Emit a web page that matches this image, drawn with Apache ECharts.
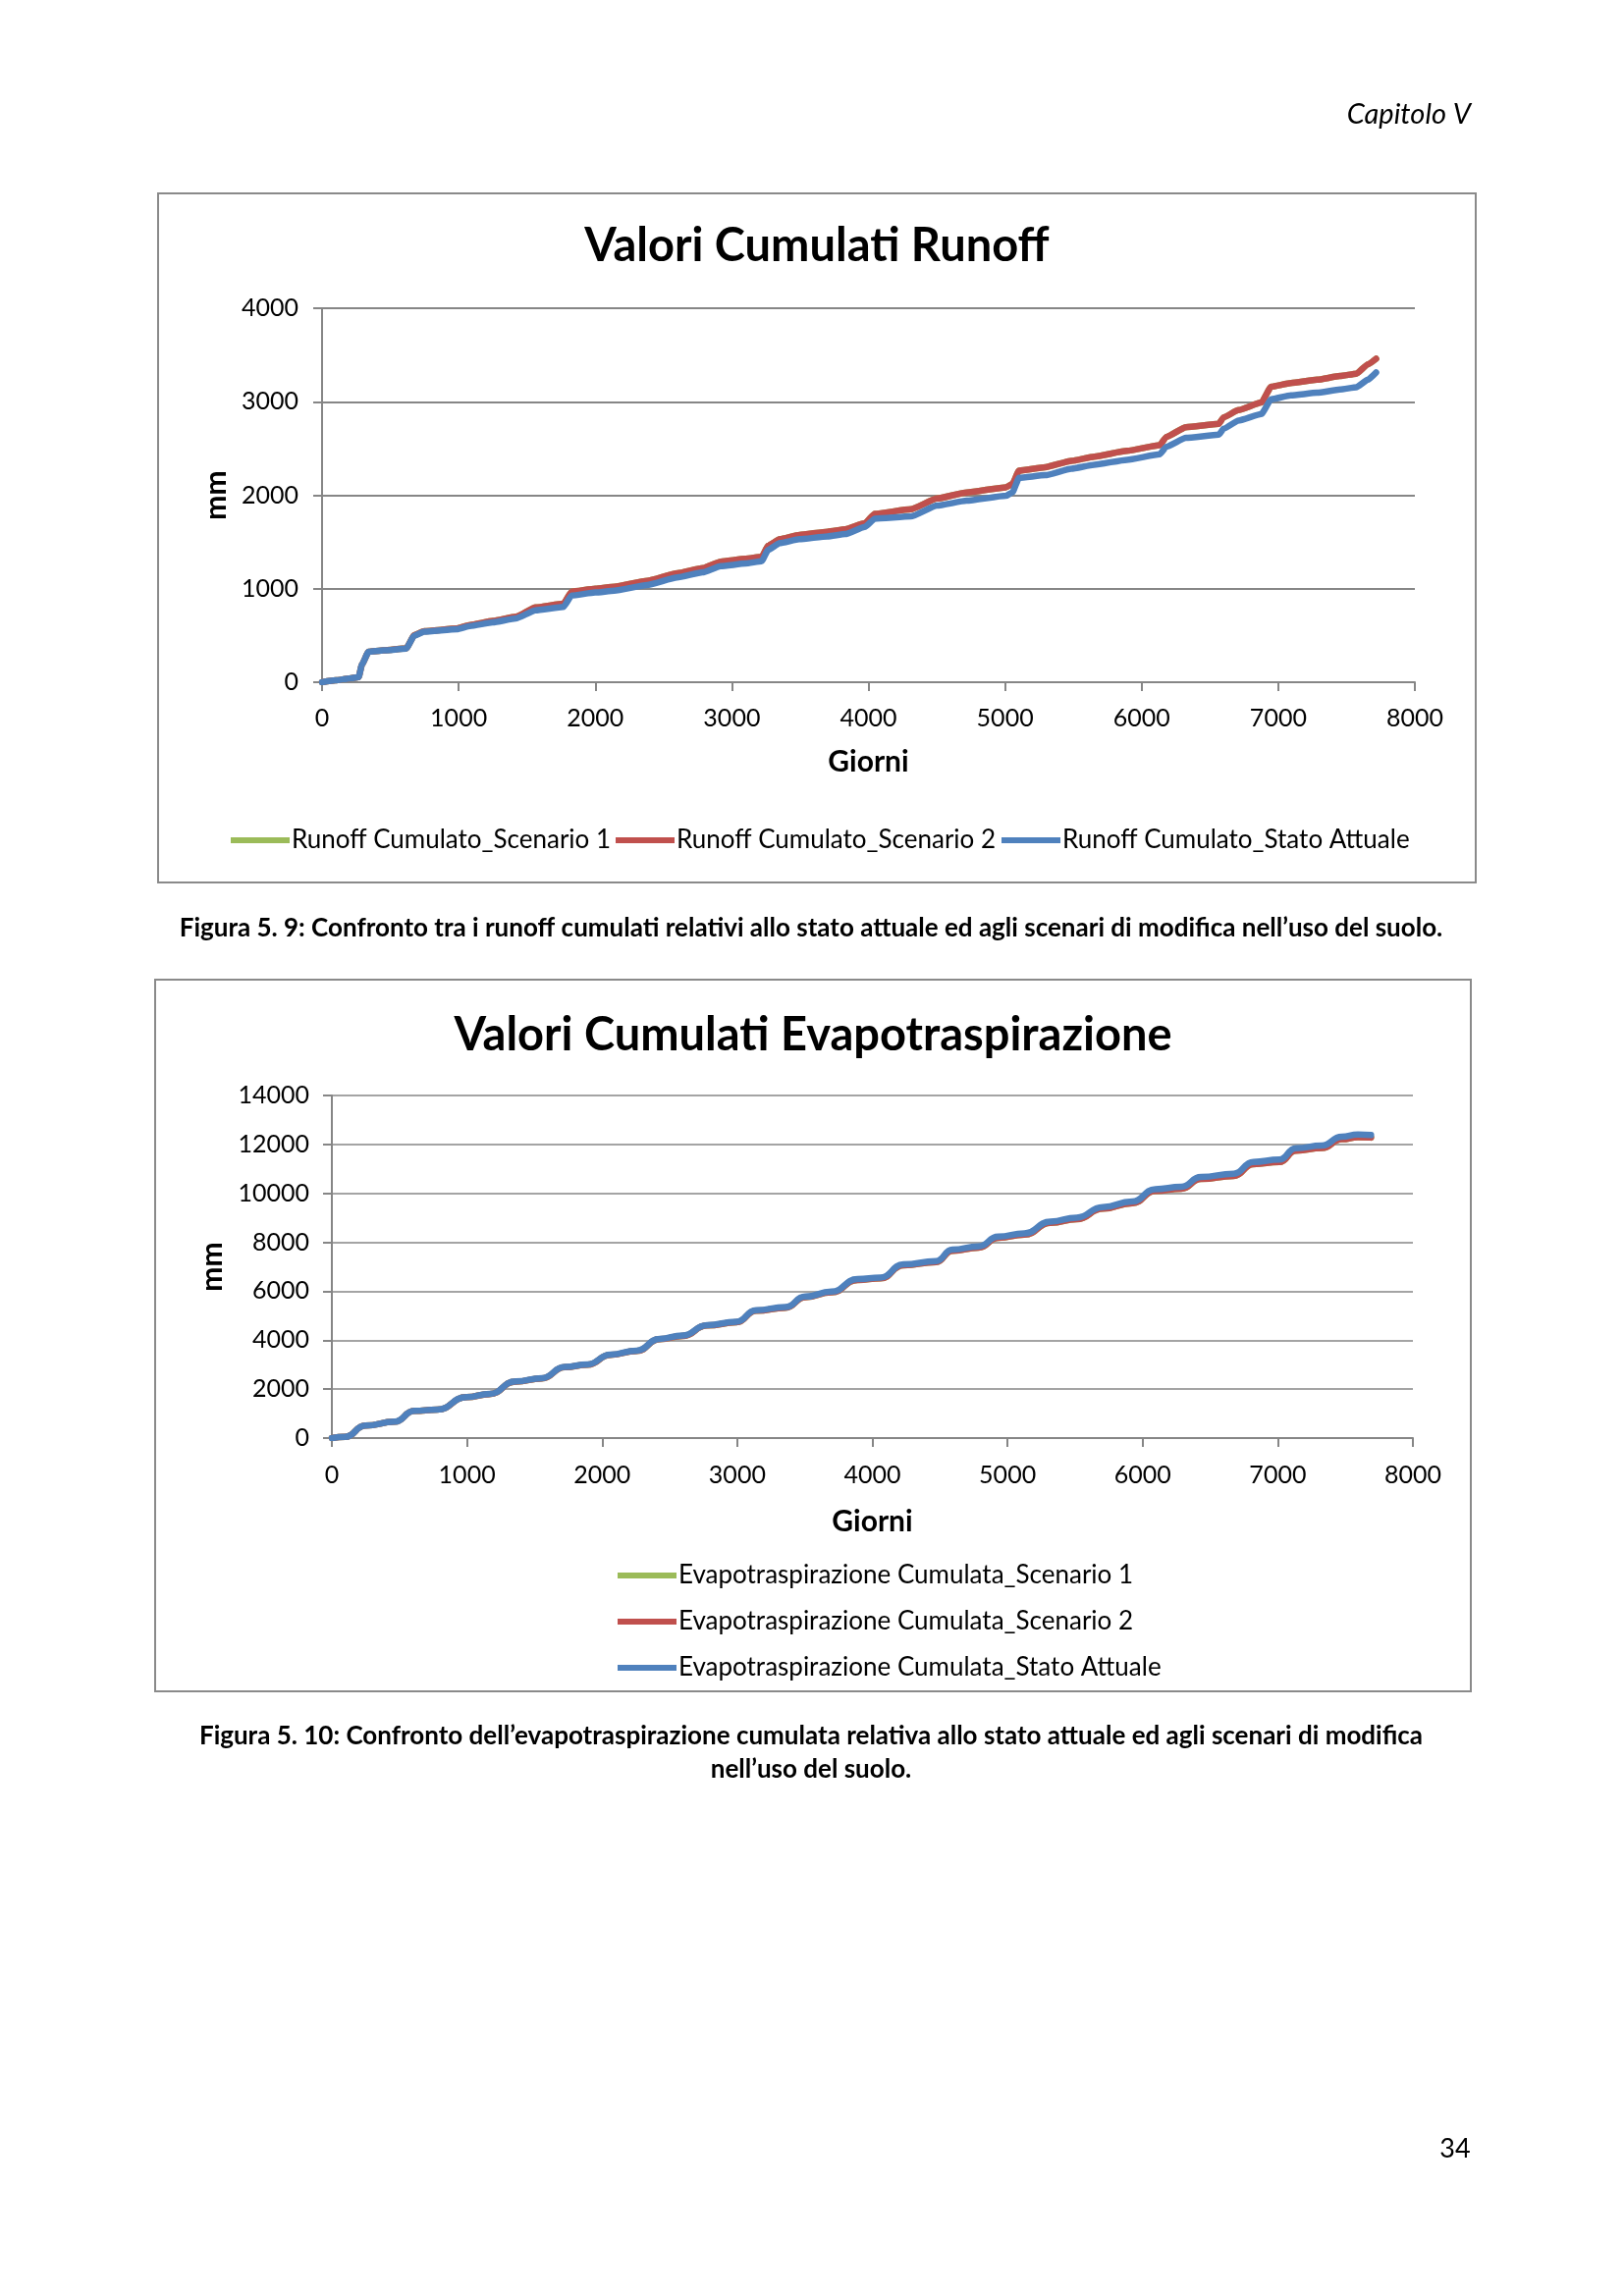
<!DOCTYPE html>
<html>
<head>
<meta charset="utf-8">
<script src="https://cdn.jsdelivr.net/npm/echarts@6/dist/echarts.min.js"></script>
<style>
html,body{margin:0;padding:0;background:#fff;}
#c{width:1654px;height:2339px;}
</style>
</head>
<body>
<div id="c"></div>
<script>
// ---------- Runoff (Figura 5.9) ----------
const runoffDays = [0,100,200,268,292,340,450,616,676,748,988,1084,1250,1419,1563,1767,1827,2000,2139,2379,2600,2786,2918,3100,3218,3266,3350,3494,3700,3830,3974,4046,4310,4502,4718,5006,5054,5102,5294,5486,5652,5892,6132,6180,6324,6564,6600,6708,6876,6948,7092,7284,7452,7572,7656,7716];
const runoffSA = [0,20,40,55,190,325,340,360,500,540,567,601,640,682,769,805,927,960,979,1039,1120,1175,1241,1270,1294,1417,1487,1529,1560,1585,1661,1749,1773,1889,1941,1994,2030,2186,2214,2284,2326,2379,2438,2518,2613,2648,2711,2798,2868,3026,3068,3096,3131,3155,3235,3313];
const runoffS2 = [0,20,40,55,190,325,340,362,505,545,575,612,655,700,800,840,969,1000,1020,1084,1165,1220,1290,1320,1340,1460,1530,1575,1610,1635,1700,1801,1850,1965,2030,2085,2120,2263,2300,2368,2413,2475,2536,2623,2728,2763,2833,2910,2991,3160,3200,3235,3275,3300,3400,3459];
const runoffS1 = [0,20,40,55,190,325,340,362,505,545,575,612,655,700,800,840,969,1000,1020,1084,1165,1220,1290,1320,1340,1460,1530,1575,1610,1635,1700,1801,1850,1965,2030,2085,2120,2263,2300,2368,2413,2475,2536,2623,2728,2763,2833,2910,2991,3160,3200,3235,3275,3300,3400,3459];

// ---------- Evapotraspirazione (Figura 5.10) ----------
const evapDays = [0,100,247,465,610,779,997,1166,1360,1554,1723,1892,2062,2255,2426,2595,2776,2994,3139,3357,3503,3697,3890,4060,4229,4471,4592,4786,4931,5124,5318,5512,5705,5923,6093,6286,6431,6674,6819,7012,7134,7327,7473,7593,7690];
const evapSA = [0,50,510,670,1112,1165,1673,1807,2316,2450,2904,3012,3414,3574,4056,4189,4618,4752,5221,5354,5783,5984,6494,6560,7096,7229,7699,7831,8233,8366,8850,9008,9438,9665,10173,10268,10670,10803,11285,11378,11847,11955,12317,12410,12382];
const evapS2 = [0,50,510,670,1110,1160,1670,1800,2310,2440,2895,3000,3400,3560,4040,4170,4600,4730,5200,5330,5760,5955,6460,6525,7060,7190,7655,7785,8185,8315,8795,8950,9375,9600,10100,10190,10590,10715,11195,11280,11745,11850,12210,12300,12280];
const evapS1 = [0,50,510,670,1110,1160,1670,1800,2310,2440,2895,3000,3400,3560,4040,4170,4600,4730,5200,5330,5760,5955,6460,6525,7060,7190,7655,7785,8185,8315,8795,8950,9375,9600,10100,10190,10590,10715,11195,11280,11745,11850,12210,12300,12280];

const runoffNames = ['Runoff Cumulato_Scenario 1','Runoff Cumulato_Scenario 2','Runoff Cumulato_Stato Attuale'];
const evapNames = ['Evapotraspirazione Cumulata_Scenario 1','Evapotraspirazione Cumulata_Scenario 2','Evapotraspirazione Cumulata_Stato Attuale'];
const colors = ['#9BBB59','#C0504D','#4F81BD'];

const FF = "Lato, 'Open Sans', sans-serif";
const GRID = '#868686';

function pts(days, vals){ return days.map((d,i)=>[d, vals[i]]); }
const plain = v => String(v);

function xAx(gi, margin, gap){
  return {
    type:'value', gridIndex:gi, min:0, max:8000, interval:1000,
    name:'Giorni', nameLocation:'middle', nameGap:gap,
    nameTextStyle:{fontFamily:FF, fontWeight:'bold', fontSize:30, color:'#000'},
    axisLine:{show:true, onZero:false, lineStyle:{color:GRID, width:2}},
    axisTick:{show:true, inside:false, length:9, lineStyle:{color:GRID, width:2}},
    axisLabel:{fontFamily:FF, fontSize:25, color:'#000', margin:margin, formatter:plain},
    splitLine:{show:false}
  };
}
function yAx(gi, max, interval, margin, gap){
  return {
    type:'value', gridIndex:gi, min:0, max:max, interval:interval,
    name:'mm', nameLocation:'middle', nameGap:gap, nameRotate:90,
    nameTextStyle:{fontFamily:FF, fontWeight:'bold', fontSize:30, color:'#000'},
    axisLine:{show:true, lineStyle:{color:GRID, width:2}},
    axisTick:{show:true, inside:false, length:9, lineStyle:{color:GRID, width:2}},
    axisLabel:{fontFamily:FF, fontSize:25, color:'#000', margin:margin, formatter:plain},
    splitLine:{show:true, lineStyle:{color:GRID, width:gi===0?2:1.5}}
  };
}
function ser(name, gi, days, vals, color, smooth){
  return {
    name:name, type:'line', xAxisIndex:gi, yAxisIndex:gi,
    data:pts(days, vals), showSymbol:false, symbol:'none',
    smooth:smooth, smoothMonotone:'x',
    lineStyle:{color:color, width:6.5, cap:'round', join:'round'}, itemStyle:{color:color},
    emphasis:{disabled:true}, animation:false
  };
}
function leg(name, left, centerY){
  return {
    data:[name], left:left, top:centerY-15, orient:'horizontal',
    icon:'rect', itemWidth:60, itemHeight:6, itemGap:0, padding:0,
    textStyle:{fontFamily:FF, fontSize:26, color:'#000', lineHeight:30, padding:[0,0,0,-3]},
    selectedMode:false
  };
}
function txt(text, x, y, size, weight, style, align){
  return {
    type:'text', z:100, silent:true,
    style:{
      text:text, x:x, y:y, fill:'#000',
      font:(style||'normal')+' '+(weight||'normal')+' '+size+'px '+FF,
      align:align||'center', verticalAlign:'middle',
      textAlign:align||'center', textVerticalAlign:'middle'
    }
  };
}

const chart = echarts.init(document.getElementById('c'), null, {renderer:'canvas'});
chart.setOption({
  backgroundColor:'#fff',
  animation:false,
  grid:[
    {left:328, top:314, width:1113, height:381, containLabel:false},
    {left:338, top:1116, width:1101, height:349, containLabel:false}
  ],
  xAxis:[ xAx(0, 24, 66), xAx(1, 25, 70) ],
  yAxis:[ yAx(0, 4000, 1000, 24, 92), yAx(1, 14000, 2000, 23, 105) ],
  legend:[
    leg(runoffNames[0], 235, 856),
    leg(runoffNames[1], 627, 856),
    leg(runoffNames[2], 1020, 856),
    leg(evapNames[0], 629, 1605),
    leg(evapNames[1], 629, 1652),
    leg(evapNames[2], 629, 1699)
  ],
  series:[
    ser(runoffNames[0], 0, runoffDays, runoffS1, colors[0], 0.15),
    ser(runoffNames[1], 0, runoffDays, runoffS2, colors[1], 0.15),
    ser(runoffNames[2], 0, runoffDays, runoffSA, colors[2], 0.15),
    ser(evapNames[0], 1, evapDays, evapS1, colors[0], 0.5),
    ser(evapNames[1], 1, evapDays, evapS2, colors[1], 0.5),
    ser(evapNames[2], 1, evapDays, evapSA, colors[2], 0.5)
  ],
  graphic:[
    {type:'rect', silent:true, shape:{x:161, y:197, width:1342, height:702}, style:{fill:'none', stroke:'#8a8a8a', lineWidth:2}},
    {type:'rect', silent:true, shape:{x:158, y:998, width:1340, height:725}, style:{fill:'none', stroke:'#8a8a8a', lineWidth:2}},
    txt('Capitolo V', 1498, 117, 29, 'normal', 'italic', 'right'),
    txt('Valori Cumulati Runoff', 832, 251, 47, 'bold'),
    txt('Valori Cumulati Evapotraspirazione', 828, 1055, 47, 'bold'),
    txt('Figura 5. 9: Confronto tra i runoff cumulati relativi allo stato attuale ed agli scenari di modifica nell\u2019uso del suolo.', 826, 946, 26, 'bold'),
    txt('Figura 5. 10: Confronto dell\u2019evapotraspirazione cumulata relativa allo stato attuale ed agli scenari di modifica', 826, 1769, 26, 'bold'),
    txt('nell\u2019uso del suolo.', 826, 1803, 26, 'bold'),
    txt('34', 1482, 2189, 27, 'normal')
  ]
});
</script>
</body>
</html>
